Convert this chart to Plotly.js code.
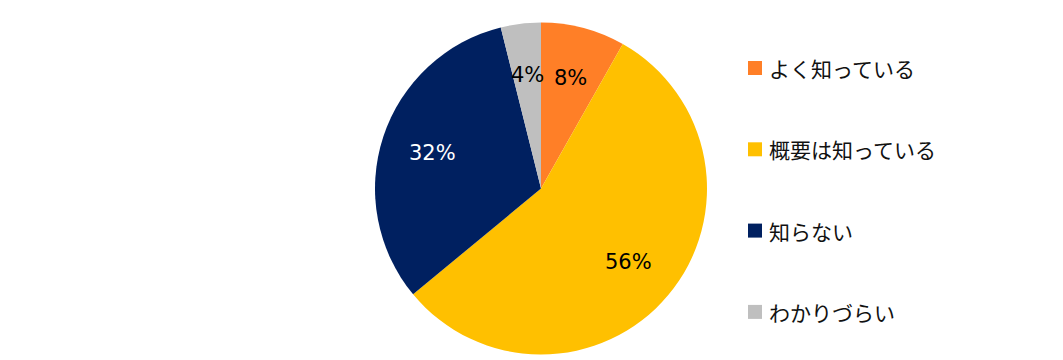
<!DOCTYPE html>
<html><head><meta charset="utf-8">
<script src="https://cdn.plot.ly/plotly-3.0.1.min.js"></script>
<style>html,body{margin:0;padding:0;background:#fff}#c{width:1063px;height:360px}</style>
</head><body><div id="c"></div>
<script>
const labels = ["よく知っている", "概要は知っている", "知らない", "わかりづらい"];
const values = [8.2, 55.8, 32.1, 3.9];
const colors = ["#FF7F27", "#FFC000", "#002060", "#BFBFBF"];
const textColors = ["#000000", "#000000", "#FFFFFF", "#000000"];

const W = 1063, H = 360;
const cx = 541, cy0 = 188.5, R = 166;
const legX = 748, legY0 = 68, legGap = 81.3, sq = 14;
const shapes = [], annotations = [];
labels.forEach((lab, i) => {
  const cy = legY0 + i * legGap;
  shapes.push({type: "rect", xref: "paper", yref: "paper",
    x0: legX / W, x1: (legX + sq) / W, y0: 1 - (cy + sq / 2) / H, y1: 1 - (cy - sq / 2) / H,
    fillcolor: colors[i], line: {width: 0}});
  annotations.push({xref: "paper", yref: "paper", x: (legX + sq + 5) / W, y: 1 - cy / H,
    xanchor: "left", yanchor: "middle", showarrow: false, text: lab,
    font: {family: "Noto Sans CJK JP, sans-serif", size: 21, color: "#111"}});
});
// percentage labels placed at each slice's mid-angle
const total = values.reduce((a, b) => a + b, 0);
let acc = 0;
values.forEach((v, i) => {
  const mid = (acc + v / 2) / total * 2 * Math.PI;
  acc += v;
  const rf = 0.69 * R;
  const px = cx + rf * Math.sin(mid), py = cy0 - rf * Math.cos(mid);
  annotations.push({xref: "paper", yref: "paper", x: px / W, y: 1 - py / H,
    xanchor: "center", yanchor: "middle", showarrow: false,
    text: Math.round(v / total * 100) + "%",
    font: {family: "DejaVu Sans, sans-serif", size: 21, color: textColors[i]}});
});

const data = [{
  type: "pie", labels: labels, values: values, sort: false, direction: "clockwise", rotation: 0,
  marker: {colors: colors, line: {width: 0}},
  textinfo: "none", hoverinfo: "label+percent", showlegend: false,
  domain: {x: [(cx - R) / W, (cx + R) / W], y: [(H - cy0 - R) / H, (H - cy0 + R) / H]}
}];
const layout = {width: W, height: H, margin: {l: 0, r: 0, t: 0, b: 0},
  paper_bgcolor: "#fff", showlegend: false, shapes: shapes, annotations: annotations};
Plotly.newPlot("c", data, layout, {displayModeBar: false, staticPlot: true});
</script></body></html>
